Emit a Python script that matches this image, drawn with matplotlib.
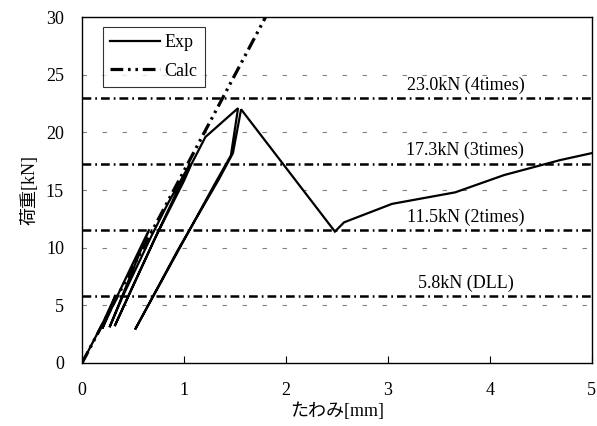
import matplotlib
matplotlib.use("Agg")
import matplotlib.pyplot as plt

plt.rcParams['font.family'] = ['Liberation Serif', 'Noto Sans CJK JP']
plt.rcParams['font.size'] = 13

# experimental load-deflection curve (cyclic loading then failure)
exp_x = [0, 0.10, 0.20, 0.33, 0.20, 0.34, 0.48, 0.66, 0.27, 0.40, 0.68, 0.84, 1.06,
         0.71, 0.32, 0.50, 0.72, 1.00, 1.07, 1.21, 1.53, 1.46, 1.30, 0.52,
         0.94, 1.34, 1.48, 1.56, 2.48, 2.57, 3.04, 3.66, 4.14, 4.69, 5.05]
exp_y = [0, 1.7, 3.4, 5.9, 3.0, 5.7, 8.3, 11.6, 3.1, 5.8, 11.0, 13.8, 17.3,
         10.7, 3.2, 6.7, 10.9, 15.8, 17.2, 19.6, 22.1, 18.0, 15.5, 2.9,
         9.8, 15.9, 18.2, 22.0, 11.4, 12.2, 13.8, 14.8, 16.3, 17.6, 18.3]

# calculated elastic line
calc_x = [0, 1.80]
calc_y = [0, 30]

# reference load levels
levels = [23.0, 17.3, 11.5, 5.8]
level_labels = ["23.0kN (4times)", "17.3kN (3times)", "11.5kN (2times)", "5.8kN (DLL)"]

fig = plt.figure(figsize=(5.97, 4.26), dpi=100)
ax = fig.add_axes([0.1374, 0.1479, 0.854, 0.812])

for yy in [5, 10, 15, 20, 25]:
    ax.axhline(yy, color="#808080", lw=0.8, linestyle=(0, (4, 14)), zorder=1)

for lv, lab in zip(levels, level_labels):
    ax.axhline(lv, color="black", lw=1.8, linestyle=(0, (3.5, 1.6, 0.7, 1.6)), zorder=2)
    ax.text(3.76, lv + 0.35, lab, ha="center", va="bottom", fontsize=13, zorder=3)

ax.plot(exp_x, exp_y, color="black", lw=1.6, solid_joinstyle="miter", label="Exp", zorder=4)
ax.plot(calc_x, calc_y, color="black", lw=2.3,
        linestyle=(0, (4, 1.5, 0.8, 1.5, 0.8, 1.5)), label="Calc", zorder=4)

ax.set_xlim(0, 5)
ax.set_ylim(0, 30)
ax.set_xticks([0, 1, 2, 3, 4, 5])
ax.set_yticks([0, 5, 10, 15, 20, 25, 30])
ax.tick_params(axis="x", direction="in", length=5, pad=14, labelsize=13)
ax.tick_params(axis="y", length=0, pad=13, labelsize=13)
for sp in ax.spines.values():
    sp.set_linewidth(1.0)

ax.set_xlabel("たわみ[mm]", fontsize=13, labelpad=2)
ax.set_ylabel("荷重[kN]", fontsize=13, labelpad=5)

leg = ax.legend(loc="upper left", bbox_to_anchor=(0.041, 0.971), borderaxespad=0,
                fancybox=False, frameon=True, handlelength=2.75, fontsize=13,
                borderpad=0.4, labelspacing=0.62, handletextpad=0.25)
leg.get_frame().set_edgecolor("black")
leg.get_frame().set_linewidth(0.8)

fig.savefig("out.png", dpi=100)
